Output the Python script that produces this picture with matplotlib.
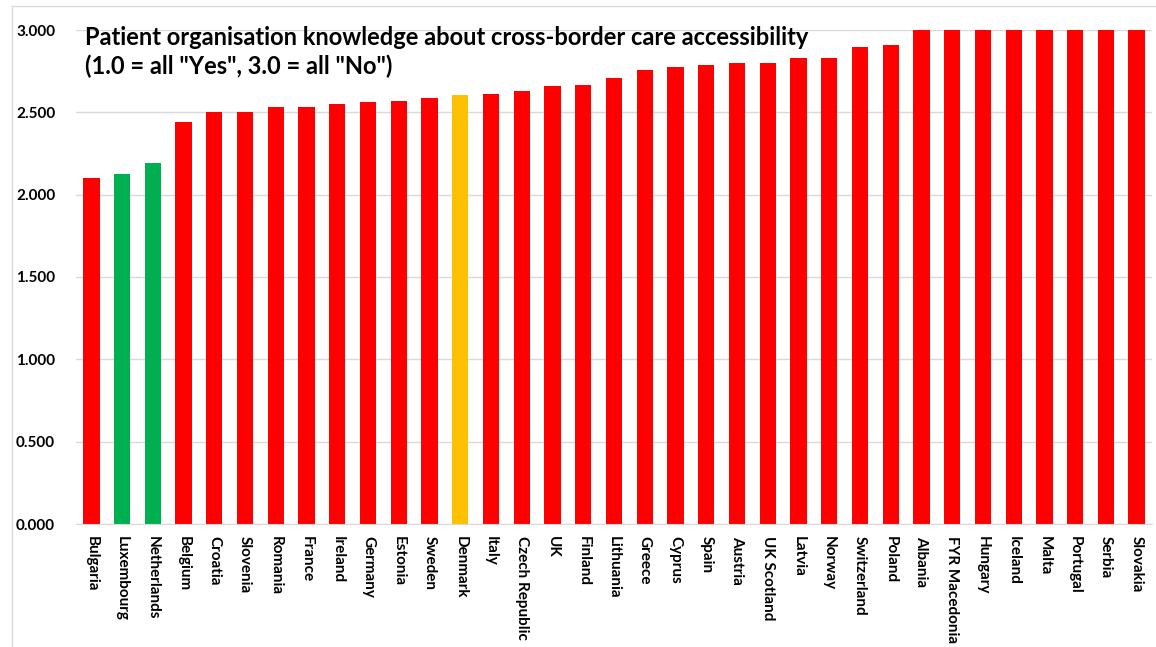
import matplotlib
matplotlib.use("Agg")
import matplotlib.pyplot as plt
from matplotlib.lines import Line2D

countries = ["Bulgaria", "Luxembourg", "Netherlands", "Belgium", "Croatia", "Slovenia",
             "Romania", "France", "Ireland", "Germany", "Estonia", "Sweden", "Denmark",
             "Italy", "Czech Republic", "UK", "Finland", "Lithuania", "Greece", "Cyprus",
             "Spain", "Austria", "UK Scotland", "Latvia", "Norway", "Switzerland", "Poland",
             "Albania", "FYR Macedonia", "Hungary", "Iceland", "Malta", "Portugal", "Serbia",
             "Slovakia"]
values = [2.10, 2.125, 2.19, 2.44, 2.50, 2.50,
          2.53, 2.53, 2.55, 2.56, 2.57, 2.59, 2.605,
          2.61, 2.63, 2.66, 2.665, 2.71, 2.755, 2.775,
          2.79, 2.80, 2.80, 2.83, 2.83, 2.895, 2.91,
          3.0, 3.0, 3.0, 3.0, 3.0, 3.0, 3.0,
          3.0]
green_countries = ["Luxembourg", "Netherlands"]
amber_countries = ["Denmark"]
title = 'Patient organisation knowledge about cross-border care accessibility\n(1.0 = all "Yes", 3.0 = all "No")'
yticks = [0.0, 0.5, 1.0, 1.5, 2.0, 2.5, 3.0]

colors = []
for c in countries:
    if c in green_countries:
        colors.append("#00B050")
    elif c in amber_countries:
        colors.append("#FFC000")
    else:
        colors.append("#FF0000")

fig = plt.figure(figsize=(11.56, 6.47), dpi=100)
ax = fig.add_axes([76/1156, 1 - 524/647, (1152 - 76)/1156, (524 - 30)/647])

x = list(range(len(countries)))
ax.bar(x, values, width=0.53, color=colors, zorder=3)
ax.set_xlim(-0.5, len(countries) - 0.5)
ax.set_ylim(0, 3.0)
ax.set_yticks(yticks)
ax.set_yticklabels([f"{v:.3f}" for v in yticks], fontsize=11, fontweight="bold",
                   family=["Lato", "DejaVu Sans"])
ax.set_xticks(x)
ax.set_xticklabels(countries, rotation=270, fontsize=11, fontweight="bold",
                   family=["Lato", "DejaVu Sans"], va="top", ha="center")
ax.tick_params(axis="y", length=0, pad=15)
ax.tick_params(axis="x", length=0, pad=9)
ax.grid(axis="y", color="#d9d9d9", linewidth=1, zorder=0)
for s in ["top", "right", "left"]:
    ax.spines[s].set_visible(False)
ax.spines["bottom"].set_color("#d9d9d9")
ax.spines["bottom"].set_zorder(4)

fig.text(85/1156, 1 - 26/647, title, fontsize=17, fontweight="bold",
         family=["Lato", "DejaVu Sans"], va="top", ha="left", linespacing=1.3)

# outer frame (partially visible)
fig.add_artist(Line2D([12/1156, 1.0], [1 - 6/647, 1 - 6/647], color="#d9d9d9", lw=1,
                      transform=fig.transFigure))
fig.add_artist(Line2D([12/1156, 12/1156], [0, 1 - 6/647], color="#d9d9d9", lw=1,
                      transform=fig.transFigure))

fig.savefig("out.png", dpi=100)
